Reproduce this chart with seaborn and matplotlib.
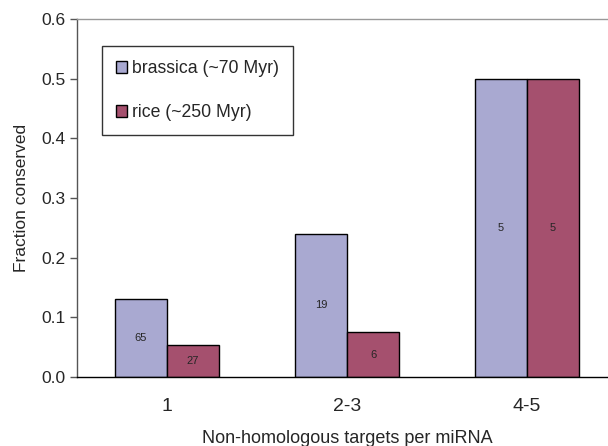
import numpy as np
import pandas as pd
import seaborn as sns
import matplotlib.pyplot as plt

# data
groups = ['1', '2-3', '4-5']
species = ['brassica (~70 Myr)', 'rice (~250 Myr)']
brassica = [0.13, 0.24, 0.50]
rice = [0.054, 0.075, 0.50]
brassica_n = ['65', '19', '5']
rice_n = ['27', '6', '5']
colors = ['#A9A9D1', '#A5506E']

df = pd.DataFrame({
    'targets': groups * 2,
    'fraction': brassica + rice,
    'species': [species[0]] * 3 + [species[1]] * 3,
})

sns.set_style('white')
plt.rcParams['font.family'] = ['Liberation Sans', 'DejaVu Sans']

fig = plt.figure(figsize=(6.08, 4.46), dpi=100)
ax = fig.add_axes([77 / 608, 69 / 446, 540 / 608, 358 / 446])

sns.barplot(data=df, x='targets', y='fraction', hue='species', palette=colors,
            width=0.578, gap=0, saturation=1, edgecolor='black', linewidth=1,
            ax=ax)

# counts inside bars
for cont, labs in zip(ax.containers, [brassica_n, rice_n]):
    ax.bar_label(cont, labels=labs, label_type='center', fontsize=8)

ax.set_xlim(-0.5, 2.5)
ax.set_ylim(0, 0.6)
ax.set_yticks(np.arange(0, 0.61, 0.1))
ax.set_yticklabels(['%.1f' % v for v in np.arange(0, 0.61, 0.1)], fontsize=12.5)
ax.set_xticks(range(3))
ax.set_xticklabels(groups, fontsize=14)
ax.set_xticks([-0.5, 0.5, 1.5, 2.5], minor=True)
ax.tick_params(axis='x', which='major', length=0, pad=15)
ax.tick_params(axis='x', which='minor', length=5, direction='out', color='#555555', width=1)
ax.tick_params(axis='y', length=5, direction='out', color='#555555', width=1, left=True, pad=3)

ax.set_xlabel('Non-homologous targets per miRNA', fontsize=13, labelpad=11)
ax.set_ylabel('Fraction conserved', fontsize=12.5, labelpad=9)

ax.spines['top'].set_color('#999999')
ax.spines['right'].set_visible(False)
ax.spines['left'].set_color('#555555')
ax.spines['bottom'].set_color('black')
for s in ['top', 'left', 'bottom']:
    ax.spines[s].set_linewidth(1)

leg = ax.legend(loc='upper left', bbox_to_anchor=(0.046, 0.925), borderaxespad=0,
                fontsize=12.7, frameon=True, fancybox=False, edgecolor='black',
                handlelength=0.65, handleheight=0.65, handletextpad=0.25,
                labelspacing=1.55, borderpad=0.8)
leg.get_frame().set_linewidth(1)
for h in leg.legend_handles:
    h.set_edgecolor('black')
    h.set_linewidth(1)

fig.savefig('out.png', dpi=100)
